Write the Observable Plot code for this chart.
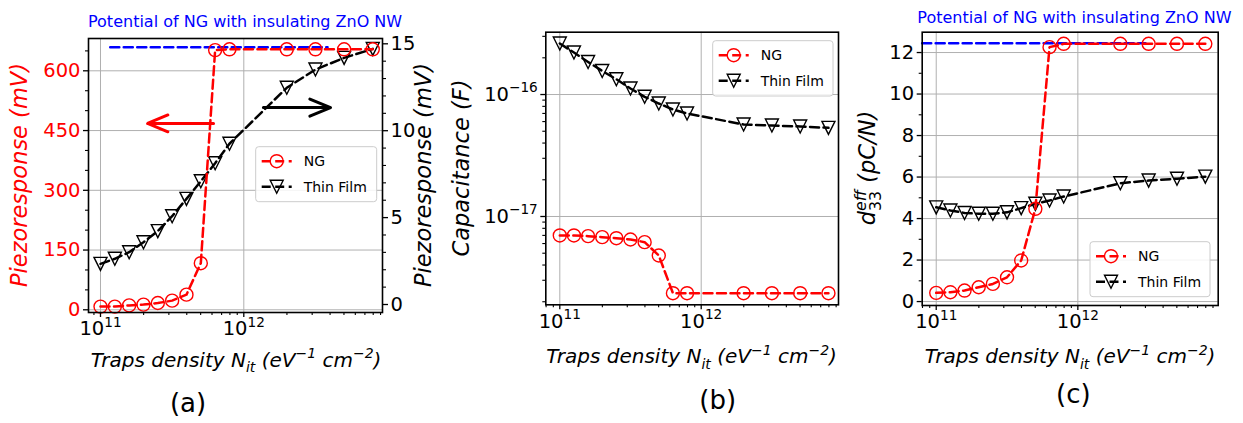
<!DOCTYPE html>
<html><head><meta charset="utf-8">
<script src="https://cdn.jsdelivr.net/npm/d3@7"></script>
<script src="https://cdn.jsdelivr.net/npm/@observablehq/plot@0.6"></script>
<style>
body{margin:0;background:#fff;}
#fig{position:relative;width:1243px;height:423px;overflow:hidden;background:#fff;font-family:"DejaVu Sans",sans-serif;}
#fig svg{position:absolute;}
</style></head><body><div id="fig"></div>
<script>
// ---------- data ----------
const traps = [1e11, 1.259e11, 1.585e11, 1.995e11, 2.512e11, 3.162e11, 3.981e11, 5.012e11, 6.310e11, 7.943e11, 1.995e12, 3.162e12, 5.012e12, 7.943e12];
// (a) piezoresponse
const ngPiezo = [8, 8, 11, 13, 17, 23, 38, 117, 652, 654, 654, 654, 654, 654];       // mV, left axis
const tfPiezo = [2.34, 2.63, 3.01, 3.58, 4.22, 5.08, 6.08, 7.09, 8.13, 9.25, 12.47, 13.52, 14.19, 14.71]; // mV, right axis
// (b) capacitance
const ngCap = [6.99e-18, 6.99e-18, 6.9e-18, 6.77e-18, 6.64e-18, 6.48e-18, 6.16e-18, 4.79e-18, 2.35e-18, 2.35e-18, 2.35e-18, 2.35e-18, 2.35e-18, 2.35e-18];
const tfCap = [2.62e-16, 2.21e-16, 1.85e-16, 1.56e-16, 1.335e-16, 1.12e-16, 0.958e-16, 0.844e-16, 0.753e-16, 0.699e-16, 0.568e-16, 0.557e-16, 0.547e-16, 0.533e-16];
// (c) d33 eff
const ngD33 = [0.42, 0.45, 0.53, 0.69, 0.85, 1.17, 1.98, 4.47, 12.26, 12.42, 12.42, 12.42, 12.42, 12.42];
const tfD33 = [4.54, 4.39, 4.27, 4.23, 4.23, 4.30, 4.50, 4.71, 4.87, 5.06, 5.70, 5.83, 5.92, 6.02];
// insulating ZnO NW reference level and its drawn extent
const insulatingPiezo = 659, insulatingRangeA = [1.17e11, 3.84e12];
const insulatingD33 = 12.45, insulatingRangeC = [7.96e10, 3.0e12];
// arrows in (a)
const arrowLeft = [{x1: 6.15e11, x2: 2.13e11, y: 468}];     // left axis units
const arrowRight = [{x1: 1.37e12, x2: 4.03e12, y: 11.33}];  // right axis units
// ticks
const xMajor = [1e11, 1e12];
const yTicksA = [0, 150, 300, 450, 600];
const yTicksARight = [0, 5, 10, 15];
const yTicksB = [1e-17, 1e-16];
const yTicksC = [0, 2, 4, 6, 8, 10, 12];

// ---------- helpers ----------
const triDown = {draw(ctx, size){ const r = Math.sqrt(size/Math.PI); ctx.moveTo(-r,-r); ctx.lineTo(r,-r); ctx.lineTo(0,r); ctx.closePath(); }};
const R = 6.5, LW = 2.5, DASH = "9,4.5", TFS = 19.5;
const grid = {stroke:"#b0b0b0", strokeOpacity:1, strokeWidth:1};
const rows = ys => traps.map((x,i)=>({x, y: ys[i]}));
function series(ys, color, sym){
  const d = rows(ys);
  return [
    Plot.line(d, {x:"x", y:"y", stroke:color, strokeWidth:LW, strokeDasharray:DASH}),
    Plot.dot(d, {x:"x", y:"y", r:R, symbol:sym, stroke:color, strokeWidth:1.4, fill:"none"})
  ];
}
function minorLog(lo, hi){ const out=[]; for(let e=Math.floor(Math.log10(lo)); e<=Math.ceil(Math.log10(hi)); e++) for(let k=2;k<=9;k++){const v=k*10**e; if(v>=lo&&v<=hi) out.push(v);} return out; }
const fmtPow = d => "10^" + String(Math.round(Math.log10(d))).replace("-", "\u2212");
function xAxes(dom){ return [
  Plot.axisX(xMajor, {tickSize:5, tickPadding:4, fontSize:TFS, tickFormat:fmtPow, label:null, strokeWidth:1.3}),
  Plot.axisX(minorLog(dom[0],dom[1]), {tickSize:3, tickFormat:()=>"", label:null, strokeWidth:1.1})
];}
const frame = Plot.frame({stroke:"black", strokeWidth:1.6});
function supify(svg){
  svg.querySelectorAll("text").forEach(t=>{
    const m = t.textContent.match(/^10\^(.+)$/);
    if(!m) return;
    t.textContent = "";
    const a = document.createElementNS("http://www.w3.org/2000/svg","tspan"); a.textContent = "10";
    const b = document.createElementNS("http://www.w3.org/2000/svg","tspan"); b.textContent = m[1];
    b.setAttribute("dy", -0.45*TFS); b.setAttribute("font-size", 0.7*TFS);
    t.append(a,b);
  });
}
function place(svg, left, top){ svg.style.left = left+"px"; svg.style.top = top+"px"; supify(svg); document.getElementById("fig").append(svg); }
const style = {fontFamily:"DejaVu Sans", background:"transparent", overflow:"visible"};

// ---------- panel (a) ----------
const A = {xd:[10**10.9163, 10**12.9679], yl:[-6.8, 681.1], yr:[-0.46, 15.305]};
const toL = v => A.yl[0] + (v - A.yr[0])*(A.yl[1]-A.yl[0])/(A.yr[1]-A.yr[0]);
const toR = u => A.yr[0] + (u - A.yl[0])*(A.yr[1]-A.yr[0])/(A.yl[1]-A.yl[0]);
const pa = Plot.plot({
  width:450, height:380, marginLeft:88, marginRight:68, marginTop:38, marginBottom:68, style,
  x:{type:"log", domain:A.xd, label:null},
  y:{domain:A.yl, label:null},
  marks:[
    Plot.gridX(xMajor, grid),
    Plot.gridY(yTicksA, grid),
    Plot.line(insulatingRangeA.map(x=>({x, y:insulatingPiezo})), {x:"x", y:"y", stroke:"#0000ff", strokeWidth:2.6, strokeDasharray:DASH}),
    ...series(tfPiezo.map(toL), "black", triDown),
    ...series(ngPiezo, "red", "circle"),
    Plot.arrow(arrowLeft, {x1:"x1", x2:"x2", y1:"y", y2:"y", stroke:"red", strokeWidth:3, headLength:16, headAngle:45}),
    Plot.arrow(arrowRight.map(d=>({...d, y:toL(d.y)})), {x1:"x1", x2:"x2", y1:"y", y2:"y", stroke:"black", strokeWidth:3, headLength:16, headAngle:45}),
    frame,
    ...xAxes(A.xd),
    Plot.axisY(yTicksA, {anchor:"left", fill:"red", stroke:"black", tickSize:5, tickPadding:3, fontSize:TFS, label:null, strokeWidth:1.3}),
    Plot.axisY(d3.range(50, 681, 50).filter(v=>v%150), {anchor:"left", tickSize:3, tickFormat:()=>"", label:null, strokeWidth:1.1}),
    Plot.axisY(yTicksARight.map(toL), {anchor:"right", tickSize:5, tickPadding:3, fontSize:TFS, tickFormat:d=>String(Math.round(toR(d))), label:null, strokeWidth:1.3}),
    Plot.axisY(d3.range(0, 16).filter(v=>v%5).map(toL), {anchor:"right", tickSize:3, tickFormat:()=>"", label:null, strokeWidth:1.1})
  ]
});
place(pa, 0, 0);

// ---------- panel (b) ----------
const B = {xd:[10**10.901, 10**12.971], yd:[10**-17.724, 10**-15.489]};
const pb = Plot.plot({
  width:395, height:380, marginLeft:95.3, marginRight:7, marginTop:31.7, marginBottom:75.7, style,
  x:{type:"log", domain:B.xd, label:null},
  y:{type:"log", domain:B.yd, label:null},
  marks:[
    Plot.gridX(xMajor, grid),
    Plot.gridY(yTicksB, grid),
    ...series(tfCap, "black", triDown),
    ...series(ngCap, "red", "circle"),
    frame,
    ...xAxes(B.xd),
    Plot.axisY(yTicksB, {anchor:"left", tickSize:5, tickPadding:3, fontSize:TFS, tickFormat:fmtPow, label:null, strokeWidth:1.3}),
    Plot.axisY(minorLog(B.yd[0], B.yd[1]), {anchor:"left", tickSize:3, tickFormat:()=>"", label:null, strokeWidth:1.1})
  ]
});
place(pb, 450, 0);

// ---------- panel (c) ----------
const C = {xd:[10**10.901, 10**12.991], yd:[-0.19, 12.98]};
const pc = Plot.plot({
  width:398, height:380, marginLeft:76.7, marginRight:25.3, marginTop:31.7, marginBottom:75, style,
  x:{type:"log", domain:C.xd, label:null},
  y:{domain:C.yd, label:null},
  marks:[
    Plot.gridX(xMajor, grid),
    Plot.gridY(yTicksC, grid),
    Plot.line(insulatingRangeC.map(x=>({x, y:insulatingD33})), {x:"x", y:"y", stroke:"#0000ff", strokeWidth:2.6, strokeDasharray:DASH}),
    ...series(tfD33, "black", triDown),
    ...series(ngD33, "red", "circle"),
    frame,
    ...xAxes(C.xd),
    Plot.axisY(yTicksC, {anchor:"left", tickSize:5, tickPadding:3, fontSize:TFS, label:null, strokeWidth:1.3}),
    Plot.axisY(d3.range(1, 13, 2), {anchor:"left", tickSize:3, tickFormat:()=>"", label:null, strokeWidth:1.1})
  ]
});
place(pc, 845, 0);

// ---------- overlay: titles, axis labels, legends, panel letters ----------
const ov = d3.select("#fig").append("svg").attr("width",1243).attr("height",423)
  .style("left","0px").style("top","0px").attr("font-family","DejaVu Sans");
function rich(sel, parts, fs){
  let shift = 0;
  parts.forEach(p=>{
    const s = sel.append("tspan").text(p.t);
    let target = 0, size = fs;
    if(p.sub){ target = 0.28*fs; size = 0.7*fs; }
    if(p.sup){ target = -0.42*fs; size = 0.7*fs; }
    s.attr("dy", target - shift).attr("font-size", size);
    if(p.dx) s.attr("dx", p.dx);
    if(p.up) s.attr("font-style","normal");
    shift = target;
  });
}
function label(x, y, parts, {fs=20, rotate=false, color="black", anchor="middle"}={}){
  const t = ov.append("text").attr("text-anchor",anchor).attr("fill",color).attr("font-style","italic")
    .attr("transform", rotate ? `translate(${x},${y}) rotate(-90)` : `translate(${x},${y})`);
  if(rotate) t.attr("dy","0.35em");
  rich(t, parts, fs);
}
// titles
ov.append("text").attr("x",88).attr("y",26.7).attr("font-size",16).attr("fill","#0000ff").text("Potential of NG with insulating ZnO NW");
ov.append("text").attr("x",917.3).attr("y",23.3).attr("font-size",16).attr("fill","#0000ff").text("Potential of NG with insulating ZnO NW");
// y labels
label(27, 175, [{t:"Piezoresponse (mV)"}], {rotate:true, color:"red", fs:22.5});
label(431, 175, [{t:"Piezoresponse (mV)"}], {rotate:true, fs:22.5});
label(469, 168, [{t:"Capacitance (F)"}], {rotate:true, fs:22.5});
label(875, 168, [{t:"d"},{t:"33",sub:true,up:true},{t:"eff",sup:true,dx:-20},{t:" (pC/N)"}], {rotate:true, fs:22.5});
// x labels
const xl = [{t:"Traps density N"},{t:"it",sub:true},{t:" (eV"},{t:"\u22121",sup:true},{t:" cm"},{t:"\u22122",sup:true},{t:")"}];
label(236, 366.7, xl);
label(691.5, 363.3, xl);
label(1070, 363.3, xl);
// panel letters
[["(a)",188,412],["(b)",717.7,409],["(c)",1073.3,403]].forEach(([s,x,y])=>
  ov.append("text").attr("x",x).attr("y",y).attr("text-anchor","middle").attr("font-size",26).text(s));
// legends
function legend(x, y, w, h){
  const g = ov.append("g");
  g.append("rect").attr("x",x).attr("y",y).attr("width",w).attr("height",h).attr("rx",3)
    .attr("fill","white").attr("fill-opacity",0.85).attr("stroke","#cccccc");
  [["NG","red","c"],["Thin Film","black","t"]].forEach(([name,col,sym],i)=>{
    const cy = y + 14.5 + i*25.5, cx = x + 21;
    g.append("line").attr("x1",x+6).attr("x2",x+36).attr("y1",cy).attr("y2",cy)
      .attr("stroke",col).attr("stroke-width",LW).attr("stroke-dasharray",DASH);
    if(sym==="c") g.append("circle").attr("cx",cx).attr("cy",cy).attr("r",R).attr("fill","none").attr("stroke",col).attr("stroke-width",1.4);
    else g.append("path").attr("d",`M${cx-R},${cy-R}L${cx+R},${cy-R}L${cx},${cy+R}Z`).attr("fill","none").attr("stroke",col).attr("stroke-width",1.4);
    g.append("text").attr("x",x+48).attr("y",cy+5).attr("font-size",14).text(name);
  });
}
legend(255.7, 146.7, 121, 55);
legend(712.7, 40.7, 120.3, 55.3);
legend(1090, 241.7, 120, 55);
</script></body></html>
